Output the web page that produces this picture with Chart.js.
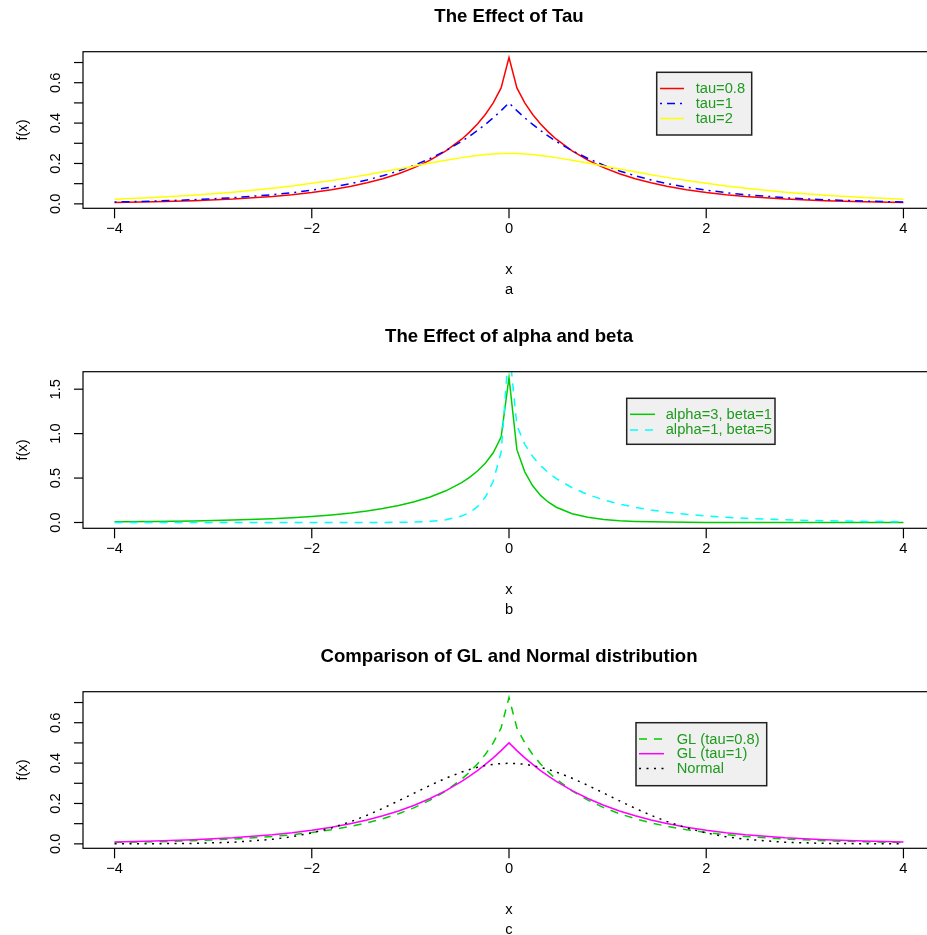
<!DOCTYPE html>
<html>
<head>
<meta charset="utf-8">
<script src="https://cdn.jsdelivr.net/npm/chart.js@4.4.0/dist/chart.umd.min.js"></script>
<style>
html, body { margin: 0; padding: 0; background: #fff; overflow: hidden; }
#wrap { position: relative; width: 927px; height: 935px; overflow: hidden; }
canvas { position: absolute; left: 0; }
</style>
</head>
<body>
<div id="wrap">
  <canvas id="panelA" width="960" height="320" style="top:0px"></canvas>
  <canvas id="panelB" width="960" height="320" style="top:320px"></canvas>
  <canvas id="panelC" width="960" height="295" style="top:640px"></canvas>
</div>
<script>
// grid of x values (finer near the peak)
const xs = [-4, -3.6, -3.2, -2.8, -2.4, -2.2, -2, -1.8, -1.6, -1.44, -1.28, -1.12, -0.96, -0.8, -0.64, -0.48, -0.4, -0.32, -0.24, -0.16, -0.08,
    0, 0.08, 0.16, 0.24, 0.32, 0.4, 0.48, 0.64, 0.8, 0.96, 1.12, 1.28, 1.44, 1.6, 1.8, 2, 2.2, 2.4, 2.8, 3.2, 3.6, 4];

const tau08 = [0.0067, 0.0102, 0.0156, 0.0238, 0.0365, 0.0453, 0.0563, 0.0700, 0.0871, 0.1041, 0.1244, 0.1494, 0.1794, 0.2164, 0.2623, 0.3203, 0.3552, 0.3956, 0.4428, 0.5000, 0.5744,
    0.7249, 0.5744, 0.5000, 0.4428, 0.3956, 0.3552, 0.3203, 0.2623, 0.2164, 0.1794, 0.1494, 0.1244, 0.1041, 0.0871, 0.0700, 0.0563, 0.0453, 0.0365, 0.0238, 0.0156, 0.0102, 0.0067];
const tau1 = [0.0092, 0.0137, 0.0204, 0.0304, 0.0454, 0.0554, 0.0677, 0.0827, 0.1009, 0.1185, 0.1390, 0.1631, 0.1914, 0.2247, 0.2636, 0.3094, 0.3352, 0.3631, 0.3933, 0.4261, 0.4616,
    0.5000, 0.4616, 0.4261, 0.3933, 0.3631, 0.3352, 0.3094, 0.2636, 0.2247, 0.1914, 0.1631, 0.1390, 0.1185, 0.1009, 0.0827, 0.0677, 0.0554, 0.0454, 0.0304, 0.0204, 0.0137, 0.0092];
const tau2 = [0.0229, 0.0314, 0.0428, 0.0578, 0.0771, 0.0886, 0.1015, 0.1157, 0.1312, 0.1445, 0.1585, 0.1729, 0.1876, 0.2022, 0.2162, 0.2290, 0.2346, 0.2396, 0.2439, 0.2471, 0.2492,
    0.2500, 0.2492, 0.2471, 0.2439, 0.2396, 0.2346, 0.2290, 0.2162, 0.2022, 0.1876, 0.1729, 0.1585, 0.1445, 0.1312, 0.1157, 0.1015, 0.0886, 0.0771, 0.0578, 0.0428, 0.0314, 0.0229];
const a3b1 = [0.0075, 0.0116, 0.0178, 0.0276, 0.0431, 0.0539, 0.0676, 0.0851, 0.1073, 0.1297, 0.1571, 0.1911, 0.2335, 0.2873, 0.3566, 0.4490, 0.5078, 0.5788, 0.6675, 0.7849, 0.9612,
    1.6315, 0.8191, 0.5699, 0.4131, 0.3052, 0.2282, 0.1719, 0.0992, 0.0580, 0.0342, 0.0203, 0.0121, 0.0073, 0.0044, 0.0023, 0.0012, 0.0007, 0.0004, 0.0001, 0, 0, 0];
const a1b5 = [0, 0, 0, 0, 0, 0, 0.00002, 0.0001, 0.0002, 0.0004, 0.0010, 0.0024, 0.0055, 0.0128, 0.0302, 0.0724, 0.1131, 0.1781, 0.2842, 0.4636, 0.7920,
    1.9835, 1.0906, 0.8792, 0.7423, 0.6406, 0.5601, 0.4940, 0.3910, 0.3140, 0.2548, 0.2081, 0.1709, 0.1409, 0.1166, 0.0923, 0.0733, 0.0584, 0.0467, 0.0299, 0.0193, 0.0125, 0.0081];
const normal = [0.0001, 0.0006, 0.0024, 0.0079, 0.0224, 0.0355, 0.0540, 0.0790, 0.1109, 0.1416, 0.1758, 0.2132, 0.2516, 0.2897, 0.3251, 0.3555, 0.3683, 0.3790, 0.3876, 0.3939, 0.3977,
    0.3989, 0.3977, 0.3939, 0.3876, 0.3790, 0.3683, 0.3555, 0.3251, 0.2897, 0.2516, 0.2132, 0.1758, 0.1416, 0.1109, 0.0790, 0.0540, 0.0355, 0.0224, 0.0079, 0.0024, 0.0006, 0.0001];

const xTicks = [-4, -2, 0, 2, 4];
const xTickLabels = ["\u22124", "\u22122", "0", "2", "4"];
const yTicksSmall = [0, 0.1, 0.2, 0.3, 0.4, 0.5, 0.6, 0.7];
const yLabelsSmall = ["0.0", "", "0.2", "", "0.4", "", "0.6", ""];
const yTicksBig = [0, 0.5, 1, 1.5];
const yLabelsBig = ["0.0", "0.5", "1.0", "1.5"];

const titles = ["The Effect of Tau", "The Effect of alpha and beta", "Comparison of GL and Normal distribution"];
const subs = ["a", "b", "c"];

const FONT = "'Liberation Sans', Arial, Helvetica, sans-serif";
const TXT = "14.7px " + FONT;
const legendText = "#1f9a1f";

function pts(ys) {
    return xs.map((x, i) => ({ x: x, y: ys[i] }));
}

function series(label, ys, color, dash, i) {
    return {
        label: label,
        data: pts(ys),
        borderColor: color,
        borderWidth: 1.5,
        borderDash: dash,
        pointRadius: 0,
        tension: 0,
        order: -i
    };
}

// draws the R-like box, axes, titles and legend
const rFrame = {
    id: "rFrame",
    afterDraw(chart, args, o) {
        const ctx = chart.ctx;
        const a = chart.chartArea;
        const sx = chart.scales.x, sy = chart.scales.y;
        ctx.save();
        ctx.strokeStyle = "#000";
        ctx.fillStyle = "#000";
        ctx.lineWidth = 1.2;
        ctx.strokeRect(a.left, a.top, a.right - a.left, a.bottom - a.top);

        // x axis
        ctx.font = TXT;
        ctx.textAlign = "center";
        ctx.textBaseline = "alphabetic";
        xTicks.forEach((t, i) => {
            const px = sx.getPixelForValue(t);
            ctx.beginPath();
            ctx.moveTo(px, a.bottom);
            ctx.lineTo(px, a.bottom + 10);
            ctx.stroke();
            ctx.fillText(xTickLabels[i], px, 233);
        });

        // y axis
        o.yTicks.forEach((t, i) => {
            const py = sy.getPixelForValue(t);
            ctx.beginPath();
            ctx.moveTo(a.left - 9, py);
            ctx.lineTo(a.left, py);
            ctx.stroke();
            if (o.yLabels[i]) {
                ctx.save();
                ctx.translate(60.3, py);
                ctx.rotate(-Math.PI / 2);
                ctx.fillText(o.yLabels[i], 0, 0);
                ctx.restore();
            }
        });

        ctx.save();
        ctx.translate(26.5, (a.top + a.bottom) / 2);
        ctx.rotate(-Math.PI / 2);
        ctx.fillText("f(x)", 0, 0);
        ctx.restore();

        const cx = sx.getPixelForValue(0);
        ctx.fillText("x", cx, 273.8);
        ctx.fillText(o.sub, cx, 293.5);

        ctx.font = "bold 18.6px " + FONT;
        ctx.fillText(o.title, cx, 21.7);

        // legend
        const L = o.legend;
        ctx.fillStyle = "#f0f0f0";
        ctx.fillRect(L.x1, L.y1, L.x2 - L.x1, L.y2 - L.y1);
        ctx.strokeStyle = "#222";
        ctx.lineWidth = 1.5;
        ctx.strokeRect(L.x1, L.y1, L.x2 - L.x1, L.y2 - L.y1);
        ctx.font = TXT;
        ctx.textAlign = "left";
        ctx.textBaseline = "middle";
        chart.data.datasets.forEach((ds, i) => {
            const ry = L.row0 + i * L.rowH;
            ctx.strokeStyle = ds.borderColor;
            ctx.lineWidth = 1.5;
            ctx.setLineDash(ds.borderDash || []);
            ctx.beginPath();
            ctx.moveTo(L.lx1, ry);
            ctx.lineTo(L.lx2, ry);
            ctx.stroke();
            ctx.setLineDash([]);
            ctx.fillStyle = legendText;
            ctx.fillText(ds.label, L.tx, ry + 0.5);
        });
        ctx.restore();
    }
};

function makePanel(id, datasets, yMin, yMax, frame, bottomPad) {
    const canvas = document.getElementById(id);
    return new Chart(canvas.getContext("2d"), {
        type: "line",
        data: { datasets: datasets },
        options: {
            responsive: false,
            animation: false,
            events: [],
            layout: { padding: { left: 83, right: 25, top: 51.7, bottom: bottomPad } },
            scales: {
                x: { type: "linear", min: -4.32, max: 4.32, display: false },
                y: { type: "linear", min: yMin, max: yMax, display: false }
            },
            plugins: {
                legend: { display: false },
                tooltip: { enabled: false },
                rFrame: frame
            }
        },
        plugins: [rFrame]
    });
}

const DASH = [8, 7];
const DOT = [2, 5.5];
const DOTDASH = [2, 5, 8, 5];

makePanel("panelA", [
    series("tau=0.8", tau08, "#ff0000", [], 0),
    series("tau=1", tau1, "#0000ff", DOTDASH, 1),
    series("tau=2", tau2, "#ffff00", [], 2)
], -0.022, 0.7536, {
    title: titles[0], sub: subs[0], yTicks: yTicksSmall, yLabels: yLabelsSmall,
    legend: { x1: 656.7, x2: 751.7, y1: 72.3, y2: 135, row0: 88.5, rowH: 15, lx1: 660, lx2: 684, tx: 695.7 }
}, 111.7);

makePanel("panelB", [
    series("alpha=3, beta=1", a3b1, "#00cd00", [], 0),
    series("alpha=1, beta=5", a1b5, "#00ffff", DASH, 1)
], -0.0653, 1.6968, {
    title: titles[1], sub: subs[1], yTicks: yTicksBig, yLabels: yLabelsBig,
    legend: { x1: 626.7, x2: 775, y1: 78.3, y2: 124.3, row0: 94.3, rowH: 15.6, lx1: 630, lx2: 655, tx: 665.7 }
}, 111.7);

makePanel("panelC", [
    series("GL (tau=0.8)", tau08, "#00cd00", DASH, 0),
    series("GL (tau=1)", tau1, "#ff00ff", [], 1),
    series("Normal", normal, "#000000", DOT, 2)
], -0.022, 0.7536, {
    title: titles[2], sub: subs[2], yTicks: yTicksSmall, yLabels: yLabelsSmall,
    legend: { x1: 636, x2: 766.7, y1: 82.7, y2: 145.7, row0: 99, rowH: 14.7, lx1: 639, lx2: 664, tx: 676.7 }
}, 86.7);
</script>
</body>
</html>
